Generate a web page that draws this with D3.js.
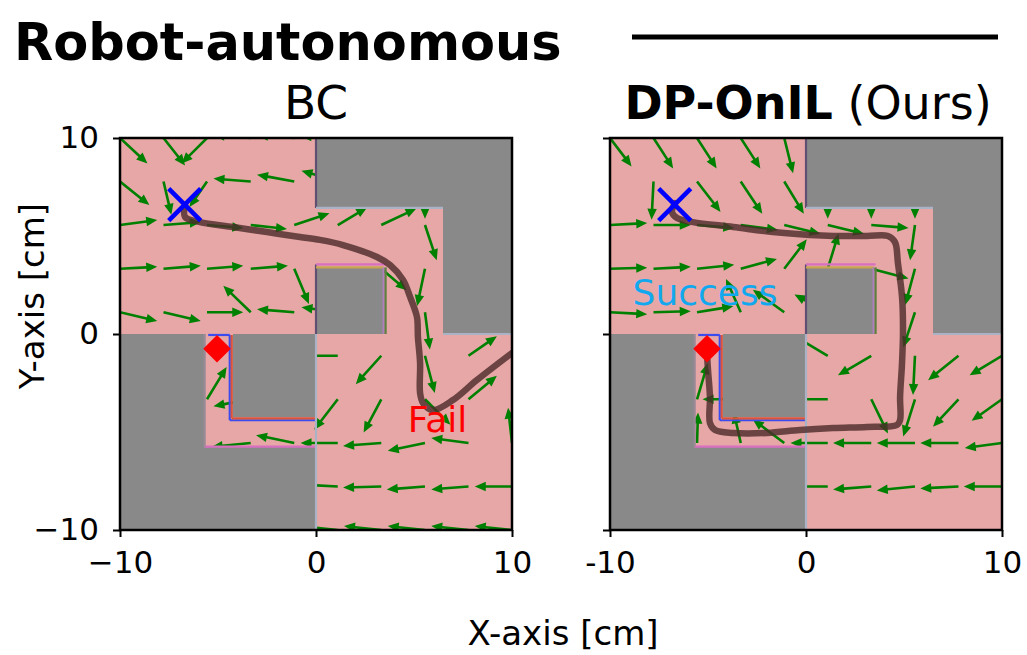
<!DOCTYPE html>
<html>
<head>
<meta charset="utf-8">
<script src="https://cdn.jsdelivr.net/npm/d3@7"></script>
<style>
body { margin: 0; background: #fff; }
text { font-family: "DejaVu Sans", sans-serif; }
</style>
</head>
<body>
<div id="chart"></div>
<script>
// grid of the vector field (same for both panels)
const gridVals = [-10, -7.78, -5.56, -3.33, -1.11, 1.11, 3.33, 5.56, 7.78, 10];
const rowVals = gridVals.slice().reverse(); // rows listed from top (y=10) to bottom
const xTicks = [-10, 0, 10];
const yTicks = [-10, 0, 10];

// BC policy field, rows top -> bottom
const bcU = [
  [1.4, 1.1, -1.3, -1.9, -1.9, -1.9, -1.9, -1.9, -1.9, -1.9],
  [1.5, 0.4, -0.9, -1.9, -1.9, -1.85, -1.9, 0, -1.9, -1.9],
  [1.9, 1.9, 1.85, 1.85, 1.8, 1.5, 1.8, 0.6, 0, 0],
  [1.9, 1.9, 1.85, 1.9, 0.75, 0.5, 1.3, -0.4, 0, 0],
  [1.9, 1.9, 1.85, -1.4, -1.9, -1.85, -1.9, 0.25, 0.2, 0.2],
  [0, 0, 0, 0, -1.9, -1.9, -1.3, 0.5, 1.45, 1.4],
  [0, 0, 1.0, -1.9, -1.9, -1.2, -0.9, 1.3, 1.45, 1.4],
  [0, 0, 0, -2.0, -1.95, -1.9, -1.95, -1.9, -1.9, -0.2],
  [-1.9, -1.9, -1.9, -1.9, -1.9, -1.9, -1.95, -1.95, -1.9, -1.9],
  [-1.9, -1.9, -1.9, -1.9, -1.9, -1.9, -1.9, -1.9, -1.9, -1.9]
];
const bcV = [
  [-1.3, -1.4, -1.3, 0.15, 0.15, 0.1, 0.1, 0.1, 0.1, 0.1],
  [-1.2, -1.7, -1.3, 0.15, 0.35, 0.55, 0, -1.9, 0, 0],
  [0.25, 0.15, -0.15, -0.2, 0.6, 0.9, 0.85, -1.8, -1.9, -1.9],
  [0.1, 0.15, 0.15, 0.15, -1.8, -1.8, -1.1, -1.9, -1.9, -1.9],
  [-0.45, -0.45, 0, 1.35, 0.15, 0.25, 0, -1.9, 1.9, 1.9],
  [-1.9, -1.9, 0, -1.9, 0, 0, -1.45, -1.9, 1.0, 1.3],
  [-1.9, -1.9, 1.65, -0.35, 0, -1.55, -1.7, -1.3, 1.2, 1.3],
  [-1.9, -1.9, 0, -0.2, 0.4, 0, -0.15, -0.4, 0.25, 1.8],
  [0, 0, 0, 0, 0, 0.1, -0.05, -0.15, -0.15, 0],
  [0.2, 0.2, 0.2, 0.2, 0.2, 0.2, 0.2, 0.2, 0.2, 0.2]
];

// DP-OnIL policy field, rows top -> bottom
const dpU = [
  [1.1, 1.0, 1.0, 1.0, 0.45, 0, 0, 0, 0, 0],
  [-1.9, -0.1, 1.2, 1.1, 1.0, 0, 0, 0, 0, 0],
  [1.9, 1.9, 1.9, 1.9, 1.85, 1.85, 1.9, -0.25, 0, 0],
  [1.9, 1.9, 1.9, 1.85, 1.15, 0.55, 1.9, -0.5, 0, 0],
  [1.9, 1.9, 1.85, -0.75, -1.6, -1.7, -1.9, -0.6, 0.2, 0.2],
  [0, 0, 0, 0, -1.9, -1.7, -1.7, -0.1, -1.55, -1.65],
  [0, 0, 0.55, -1.95, -1.9, -1.9, 0.85, -0.6, -1.3, -1.55],
  [0, 0, 0.05, -0.35, -1.6, -1.9, -1.95, -1.95, -1.95, -1.9],
  [-1.9, -1.9, -1.9, -1.9, -1.9, -1.9, -1.95, -1.95, -1.95, -1.95],
  [0, 0, 0, 0, 0, 0, 0, 0, 0, 0]
];
const dpV = [
  [-1.45, -1.55, -1.55, -1.55, -1.8, -1.9, -1.9, -1.9, -1.9, -1.9],
  [0, -1.95, -1.55, -1.65, -1.65, -1.9, -1.9, -1.9, -1.9, -1.9],
  [0.1, 0, -0.15, -0.25, -0.45, -0.45, -0.15, -1.8, -1.9, -1.9],
  [0.05, 0.1, 0.2, 0.5, 1.5, 1.8, -0.5, -1.85, -1.9, -1.9],
  [-0.1, 0.05, 0.3, 1.7, 1.15, 0.9, 0, -1.8, 1.9, 1.9],
  [-1.9, -1.9, 0, -1.9, 0, 1.0, -1.0, -2.0, -1.25, -1.0],
  [-1.9, -1.9, 1.85, 0, 0, 0, -1.75, -1.9, -1.4, -1.1],
  [-1.9, -1.9, 1.55, 1.55, 1.2, 0, 0, 0, 0, -0.25],
  [0, 0, 0, 0, 0, 0, -0.15, -0.2, -0.1, 0],
  [-1.9, -1.9, -1.9, -1.9, -1.9, -1.9, -1.9, -1.9, -1.9, -1.9]
];

// rolled-out trajectories
const bcPathX = [-6.68, -6.68, -5.92, -4.23, -2.5, -0.82, 0.2, 1.38, 3.11, 3.78, 4.44, 4.8, 5.15, 5.2, 5.31, 5.31, 5.46, 5.97, 6.99, 8.21, 10.0];
const bcPathY = [6.58, 5.97, 5.71, 5.46, 5.2, 4.95, 4.8, 4.54, 3.93, 3.52, 2.76, 1.89, 0.87, -0.15, -1.48, -3.01, -3.52, -3.88, -3.37, -2.35, -0.97];
const dpPathX = [-6.68, -6.84, -6.58, -5.77, -3.72, -1.68, 0.2, 1.38, 3.11, 4.18, 4.54, 4.69, 4.9, 4.95, 4.9, 4.8, 4.8, 4.64, 3.11, 1.38, -0.31, -1.99, -3.72, -4.64, -4.9, -4.9, -5.0, -5.05];
const dpPathY = [6.68, 6.22, 5.92, 5.71, 5.46, 5.2, 5.05, 5.0, 5.0, 5.0, 4.69, 3.62, 1.89, 0.2, -1.48, -3.21, -4.39, -4.64, -4.74, -4.8, -4.9, -5.05, -5.05, -4.9, -4.54, -3.21, -1.84, -1.07];

const startPt = [-6.7, 6.6];
const goalPt = [-5.05, -0.75];

// obstacles [x0, x1, y0, y1]
const walls = [
  [0, 10, 6.43, 10],
  [6.48, 10, 0, 6.43],
  [0, 3.4, 0, 3.35],
  [-10, -5.7, -10, 0],
  [-5.72, 0, -10, -5.75],
  [-4.25, 0, -4.25, 0]
];
// thin boundary traces [x1, y1, x2, y2, kind]
const edges = [
  [0, 10, 0, 6.43, "purple"],
  [0, 3.55, 0, 0, "purple"],
  [0, 3.55, 3.55, 3.55, "magenta"],
  [0, 3.4, 3.45, 3.4, "gold"],
  [3.45, 3.4, 3.45, 0, "lilac"],
  [3.55, 3.4, 3.55, 0, "olive"],
  [-4.4, -0.05, -4.4, -4.4, "blue"],
  [-4.4, -4.4, 0, -4.4, "blue"],
  [-5.5, -0.05, -4.4, -0.05, "blue"],
  [-4.3, -0.05, -4.3, -4.3, "red"],
  [-4.3, -4.3, 0, -4.3, "red"],
  [-5.7, -5.75, 0, -5.75, "magenta"],
  [-5.68, 0, -5.68, -5.75, "grey"],
  [0, 0, 0, -10, "steel"],
  [6.48, 0, 10, 0, "steel"],
  [0, 6.43, 6.48, 6.43, "steel"]
];
const edgeColor = { purple: "#5f4f73", magenta: "#d86fc0", gold: "#c9a453", lilac: "#b07fbf", olive: "#5f7f3f", blue: "#3a4cf0", red: "#d9553a", grey: "#9a8a98", steel: "#aab3c6" };

const panels = [
  { left: 120, u: bcU, v: bcV, px: bcPathX, py: bcPathY, note: "Fail", notePos: [6.2, -5.0], noteColor: "#ff0000", minus: "\u2212", yLabels: true },
  { left: 610, u: dpU, v: dpV, px: dpPathX, py: dpPathY, note: "Success", notePos: [-5.15, 1.48], noteColor: "#12a8ee", minus: "-", yLabels: false }
];

const W = 1027, H = 655, size = 392, plotTop = 138;

const svg = d3.select("#chart").append("svg")
  .attr("width", W)
  .attr("height", H);

const y = d3.scaleLinear().domain([-10, 10]).range([plotTop + size, plotTop]);

panels.forEach((p, i) => {
  const x = d3.scaleLinear().domain([-10, 10]).range([p.left, p.left + size]);
  const k = x(1) - x(0); // px per data unit

  svg.append("clipPath").attr("id", "clip" + i)
    .append("rect").attr("x", p.left).attr("y", plotTop).attr("width", size).attr("height", size);

  const g = svg.append("g").attr("clip-path", `url(#clip${i})`);

  // free space
  g.append("rect")
    .attr("x", x(-10)).attr("y", y(10))
    .attr("width", x(10) - x(-10)).attr("height", y(-10) - y(10))
    .attr("fill", "#e7a7a6");

  // vector field
  const arrows = [];
  rowVals.forEach((yv, r) => gridVals.forEach((xv, c) => {
    arrows.push({ x: xv, y: yv, u: p.u[r][c], v: p.v[r][c] });
  }));
  const sw = 2.6, hw = 9.5, hl = 11;
  g.append("g").selectAll("path")
    .data(arrows.filter(a => a.u !== 0 || a.v !== 0))
    .join("path")
      .attr("transform", a => `translate(${x(a.x)},${y(a.y)}) rotate(${Math.atan2(-a.v, a.u) * 180 / Math.PI})`)
      .attr("d", a => {
        const L = Math.hypot(a.u, a.v) * k;
        return `M0,${-sw / 2}L${L - hl},${-sw / 2}L${L - hl},${-hw / 2}L${L},0L${L - hl},${hw / 2}L${L - hl},${sw / 2}L0,${sw / 2}Z`;
      })
      .attr("fill", "#008000");

  // obstacles
  g.append("g").selectAll("rect")
    .data(walls)
    .join("rect")
      .attr("x", d => x(d[0]))
      .attr("y", d => y(d[3]))
      .attr("width", d => x(d[1]) - x(d[0]))
      .attr("height", d => y(d[2]) - y(d[3]))
      .attr("fill", "#898989")
      .attr("shape-rendering", "crispEdges");

  g.append("g").selectAll("line")
    .data(edges)
    .join("line")
      .attr("x1", d => x(d[0])).attr("y1", d => y(d[1]))
      .attr("x2", d => x(d[2])).attr("y2", d => y(d[3]))
      .attr("stroke", d => edgeColor[d[4]])
      .attr("stroke-width", 2.2);

  // trajectory
  const line = d3.line()
    .x(j => x(p.px[j]))
    .y(j => y(p.py[j]))
    .curve(d3.curveCatmullRom.alpha(0.5));
  g.append("path")
    .attr("d", line(d3.range(p.px.length)))
    .attr("fill", "none")
    .attr("stroke", "#4e2a2b")
    .attr("stroke-opacity", 0.8)
    .attr("stroke-width", 6.5)
    .attr("stroke-linejoin", "round")
    .attr("stroke-linecap", "round");

  // start (X) and goal (diamond)
  const sx = x(startPt[0]), sy = y(startPt[1]), m = 16;
  g.append("path")
    .attr("d", `M${sx - m},${sy - m}L${sx + m},${sy + m}M${sx - m},${sy + m}L${sx + m},${sy - m}`)
    .attr("stroke", "#0000ff")
    .attr("stroke-width", 4.5);
  g.append("path")
    .attr("transform", `translate(${x(goalPt[0])},${y(goalPt[1])}) rotate(45)`)
    .attr("d", d3.symbol(d3.symbolSquare, 380)())
    .attr("fill", "#ff0000");

  g.append("text")
    .attr("x", x(p.notePos[0])).attr("y", y(p.notePos[1]))
    .attr("text-anchor", "middle")
    .attr("font-size", 36)
    .attr("fill", p.noteColor)
    .text(p.note);

  // axes
  const fmt = t => (t < 0 ? p.minus + Math.abs(t) : String(t));
  const xAxis = svg.append("g")
    .attr("transform", `translate(0,${plotTop + size})`)
    .call(d3.axisBottom(x).tickValues(xTicks).tickFormat(fmt).tickSize(7).tickPadding(14));
  const yAxis = svg.append("g")
    .attr("transform", `translate(${p.left},0)`)
    .call(d3.axisLeft(y).tickValues(yTicks).tickFormat(p.yLabels ? fmt : () => "").tickSize(7).tickPadding(14));
  [xAxis, yAxis].forEach(a => {
    a.select(".domain").remove();
    a.attr("font-size", 31).attr("font-family", "DejaVu Sans");
    a.selectAll(".tick line").attr("stroke", "#000").attr("stroke-width", 2);
    a.selectAll(".tick text").attr("fill", "#000");
  });

  svg.append("rect")
    .attr("x", p.left).attr("y", plotTop).attr("width", size).attr("height", size)
    .attr("fill", "none").attr("stroke", "#000").attr("stroke-width", 2.5);
});

// titles
svg.append("text").attr("x", 316).attr("y", 119).attr("text-anchor", "middle")
  .attr("font-size", 47).text("BC");
const t2 = svg.append("text").attr("x", 808).attr("y", 119).attr("text-anchor", "middle").attr("font-size", 46);
t2.append("tspan").attr("font-weight", "bold").text("DP-OnIL");
t2.append("tspan").text(" (Ours)");

svg.append("text").attr("x", 14).attr("y", 60)
  .attr("font-size", 51).attr("font-weight", "bold").text("Robot-autonomous");
svg.append("line").attr("x1", 632).attr("x2", 998).attr("y1", 37).attr("y2", 37)
  .attr("stroke", "#000").attr("stroke-width", 5);

svg.append("text").attr("x", 563).attr("y", 645).attr("text-anchor", "middle")
  .attr("font-size", 34).text("X-axis [cm]");
svg.append("text").attr("transform", "translate(44,296) rotate(-90)").attr("text-anchor", "middle")
  .attr("font-size", 34).text("Y-axis [cm]");
</script>
</body>
</html>
